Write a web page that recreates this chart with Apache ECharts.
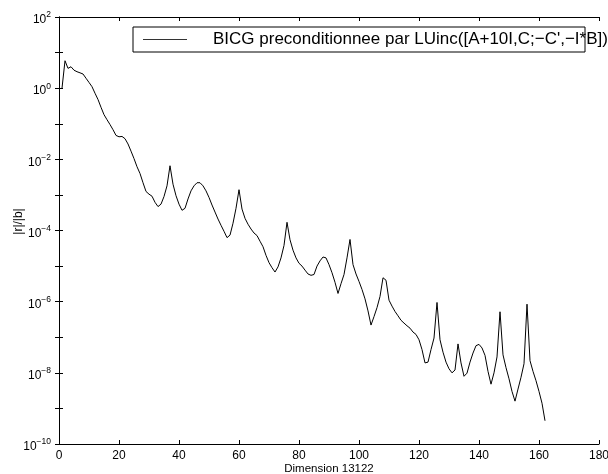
<!DOCTYPE html>
<html><head><meta charset="utf-8">
<script src="https://cdn.jsdelivr.net/npm/echarts@6/dist/echarts.min.js"></script>
<style>html,body{margin:0;padding:0;background:#fff}#c{width:608px;height:474px}</style>
</head><body><div id="c"></div>
<script>
// ---- data ----
const firstIteration = 1;
const residuals = [
  1.0, 5.9, 3.6, 4.0, 3.2, 2.9, 2.7, 2.5, 1.9, 1.45,
  1.1, 0.72, 0.48, 0.29, 0.18, 0.13, 0.095, 0.068, 0.047, 0.043,
  0.044, 0.038, 0.027, 0.017, 0.0105, 0.0062, 0.0040, 0.0022, 0.00125, 0.00105,
  0.00092, 0.00062, 0.00047, 0.00055, 0.00090, 0.0018, 0.0066, 0.0020, 0.00095, 0.00055,
  0.00037, 0.00042, 0.00077, 0.0013, 0.0018, 0.0022, 0.0022, 0.0018, 0.0013, 0.00085,
  0.00052, 0.00033, 0.00021, 0.00014, 9.5e-5, 6.3e-5, 7.4e-5, 1.6e-4, 4.2e-4, 1.4e-3,
  4.0e-4, 2.2e-4, 1.5e-4, 1.1e-4, 8.5e-5, 7.2e-5, 5.0e-5, 3.5e-5, 2.0e-5, 1.25e-5,
  9.0e-6, 6.8e-6, 9.5e-6, 1.7e-5, 3.8e-5, 1.7e-4, 5.5e-5, 2.8e-5, 1.7e-5, 1.2e-5,
  1.0e-5, 7.7e-6, 6.0e-6, 5.5e-6, 5.8e-6, 1.0e-5, 1.4e-5, 1.8e-5, 1.7e-5, 1.1e-5,
  6.5e-6, 3.5e-6, 1.7e-6, 3.2e-6, 5.8e-6, 1.7e-5, 5.6e-5, 1.1e-5, 6.0e-6, 3.7e-6,
  2.2e-6, 1.2e-6, 5.5e-7, 2.2e-7, 3.8e-7, 6.8e-7, 1.4e-6, 4.7e-6, 4.0e-6, 1.1e-6,
  7.5e-7, 5.3e-7, 4.0e-7, 3.0e-7, 2.5e-7, 2.1e-7, 1.8e-7, 1.4e-7, 1.2e-7, 8.5e-8,
  4.5e-8, 1.9e-8, 2.0e-8, 4.5e-8, 9.5e-8, 9.5e-7, 8.5e-8, 3.8e-8, 2.0e-8, 1.3e-8,
  1.0e-8, 1.2e-8, 6.5e-8, 1.9e-8, 8.0e-9, 9.8e-9, 2.0e-8, 3.6e-8, 5.8e-8, 6.3e-8,
  5.0e-8, 3.1e-8, 1.1e-8, 4.8e-9, 1.0e-8, 2.8e-8, 5.2e-7, 3.2e-8, 1.4e-8, 6.8e-9,
  3.0e-9, 1.6e-9, 3.5e-9, 7.5e-9, 1.8e-8, 8.5e-7, 2.2e-8, 1.1e-8, 6.0e-9, 3.0e-9,
  1.4e-9, 4.5e-10
];
const xMin = 0, xMax = 180, xStep = 20;
const yMin = 1e-10, yMax = 1e2;
const seriesName = "BICG preconditionnee par LUinc([A+10I,C;\u2212C',\u2212I*B])";
const xAxisTitle = 'Dimension 13122';
const yAxisTitle = '|r|/|b|';

// ---- chart ----
const points = residuals.map((v, i) => [firstIteration + i, v]);
const font = "'Liberation Sans', Arial, Helvetica, sans-serif";
function expLabel(v) {
  const e = Math.round(Math.log10(v));
  if (e % 2 !== 0) return '';
  const s = e < 0 ? '\u2212' + (-e) : '' + e;
  return '{b|10}{s|' + s + '}';
}
const axisLine = { show: true, lineStyle: { color: '#000', width: 1 } };
const tick = { show: true, inside: true, length: 4, lineStyle: { color: '#000', width: 1 } };

const chart = echarts.init(document.getElementById('c'), null, { renderer: 'canvas' });
chart.setOption({
  animation: false,
  backgroundColor: '#fff',
  textStyle: { fontFamily: font },
  grid: { left: 59, right: 9, top: 17, bottom: 30, containLabel: false, outerBoundsMode: 'none' },
  xAxis: [
    { type: 'value', min: xMin, max: xMax, interval: xStep, position: 'bottom',
      axisLine, axisTick: tick, splitLine: { show: false },
      axisLabel: { color: '#000', fontSize: 12, fontFamily: font, margin: 6 },
      name: xAxisTitle, nameLocation: 'middle', nameGap: 19, nameMoveOverlap: false,
      nameTextStyle: { color: '#000', fontSize: 11.5, fontFamily: font } },
    { type: 'value', min: xMin, max: xMax, interval: xStep, position: 'top',
      axisLine, axisTick: tick, splitLine: { show: false }, axisLabel: { show: false } }
  ],
  yAxis: [
    { type: 'log', logBase: 10, min: yMin, max: yMax, interval: 1, position: 'left',
      axisLine, axisTick: tick, splitLine: { show: false },
      axisLabel: { formatter: expLabel, margin: 8, color: '#000',
        rich: { b: { fontSize: 12, fontFamily: font, color: '#000', padding: [6, 0, 0, 0] },
                s: { fontSize: 8.5, fontFamily: font, color: '#000', padding: [0, 0, 4, 0] } } },
      name: yAxisTitle, nameLocation: 'middle', nameGap: 34, nameRotate: 90, nameMoveOverlap: false,
      nameTextStyle: { color: '#000', fontSize: 12, fontFamily: font, padding: [0, 0, 0, 18] } },
    { type: 'log', logBase: 10, min: yMin, max: yMax, interval: 1, position: 'right',
      axisLine, axisTick: tick, splitLine: { show: false }, axisLabel: { show: false } }
  ],
  legend: {
    left: 143, top: 31, padding: 0, itemWidth: 44, itemHeight: 14,
    data: [{ name: seriesName, icon: 'path://M0,0 L44,0 L44,1 L0,1 Z' }],
    itemStyle: { color: '#333' },
    textStyle: { color: '#000', fontSize: 17, fontFamily: font, padding: [0, 0, 0, 21] }
  },
  graphic: [
    { type: 'rect', z: 3, shape: { x: 133, y: 27, width: 452, height: 25 },
      style: { fill: '#fff', stroke: '#000', lineWidth: 1 } }
  ],
  series: [
    { name: seriesName, type: 'line', data: points, symbol: 'none', smooth: false,
      lineStyle: { color: '#000', width: 1 }, itemStyle: { color: '#000' } }
  ]
});
</script></body></html>
